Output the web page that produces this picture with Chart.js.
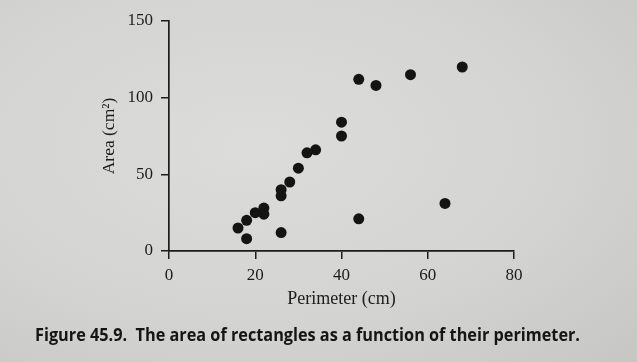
<!DOCTYPE html>
<html>
<head>
<meta charset="utf-8" />
<title>Area vs perimeter</title>
<script src="https://cdn.jsdelivr.net/npm/chart.js@4"></script>
<style>
  html, body { margin: 0; padding: 0; }
  body {
    width: 637px; height: 362px; overflow: hidden; position: relative;
    background: radial-gradient(ellipse at 40% 40%, #dcdcda 0%, #d4d4d2 55%, #c6c6c4 100%);
  }
  #wrap { position: absolute; left: 0; top: 0; width: 637px; height: 362px; }
  #caption {
    position: absolute; left: 35px; top: 325px;
    font-family: "Open Sans", "Noto Sans", sans-serif; font-weight: 700;
    font-size: 18px; line-height: 18px; color: #151515;
    white-space: nowrap; transform-origin: 0 0;
  }
</style>
</head>
<body>
<div id="wrap"><canvas id="chart" width="637" height="362"></canvas></div>
<div id="caption">Figure 45.9.&nbsp; The area of rectangles as a function of their perimeter.</div>

<script>
  // 사각형 둘레(cm)와 넓이(cm²) - 그림에서 읽은 값
  var perimeter = [16, 18, 18, 20, 22, 22, 26, 26, 26, 28, 30, 32, 34, 40, 40, 44, 44, 48, 56, 64, 68];
  var area      = [15, 20,  8, 25, 28, 24, 40, 36, 12, 45, 54, 64, 66, 84, 75, 112, 21, 108, 115, 31, 120];
  var xTicks = [0, 20, 40, 60, 80];
  var yTicks = [0, 50, 100, 150];

  var points = perimeter.map(function (p, i) { return { x: p, y: area[i] }; });

  var ink = "#1c1c1c";
  var serif = { family: "'Liberation Serif', 'DejaVu Serif', serif", size: 17 };

  new Chart(document.getElementById("chart"), {
    type: "scatter",
    data: {
      datasets: [{
        data: points,
        pointRadius: 5.5,
        pointHoverRadius: 5.5,
        pointBackgroundColor: "#141414",
        pointBorderWidth: 0
      }]
    },
    options: {
      responsive: false,
      animation: false,
      layout: { padding: { left: 0, top: 21, right: 123, bottom: 0 } },
      plugins: { legend: { display: false }, tooltip: { enabled: false } },
      scales: {
        x: {
          type: "linear",
          min: xTicks[0], max: xTicks[xTicks.length - 1],
          afterBuildTicks: function (s) { s.ticks = xTicks.map(function (v) { return { value: v }; }); },
          afterFit: function (s) { s.height = 111; },
          border: { color: ink, width: 1.7 },
          grid: { drawOnChartArea: false, tickLength: 8, color: ink, lineWidth: 1.5 },
          ticks: { color: ink, font: serif, padding: 6 },
          title: {
            display: true, text: "Perimeter (cm)", color: ink,
            font: { family: serif.family, size: 18 },
            padding: { top: 0, bottom: 52 }
          }
        },
        y: {
          type: "linear",
          min: yTicks[0], max: yTicks[yTicks.length - 1],
          afterBuildTicks: function (s) { s.ticks = yTicks.map(function (v) { return { value: v }; }); },
          afterFit: function (s) { s.width = 169; },
          border: { color: ink, width: 1.7 },
          grid: { drawOnChartArea: false, tickLength: 8, color: ink, lineWidth: 1.5 },
          ticks: { color: ink, font: serif, padding: 8 },
          title: {
            display: true, text: "Area (cm²)", color: ink,
            font: { family: serif.family, size: 17.5 },
            padding: { top: 99, bottom: 0 }
          }
        }
      }
    }
  });

  // 캡션 폭 맞추기
  var cap = document.getElementById("caption");
  var w = cap.getBoundingClientRect().width;
  cap.style.transform = "scaleX(" + (545 / w) + ")";
</script>
</body>
</html>
